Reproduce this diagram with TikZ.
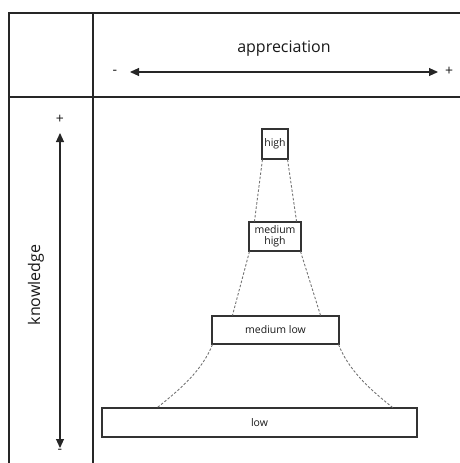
\documentclass[tikz,border=0pt]{standalone}
\usepackage{fontspec}
\setmainfont{Open Sans}
\usetikzlibrary{arrows.meta}
\begin{document}
\begin{tikzpicture}[x=1pt,y=-1pt,
  frame/.style={draw=black!85,line width=1.3pt},
  lvl/.style={draw=black!80,line width=1.1pt,inner sep=0pt,font=\fontsize{10.5}{11.5}\selectfont,align=center,text=black!90},
  conn/.style={draw=black!55,dashed,dash pattern=on 2.5pt off 1.8pt,line width=0.9pt},
  axis/.style={draw=black!85,line width=1.1pt,{Triangle[length=9pt,width=8pt]}-{Triangle[length=9pt,width=8pt]}},
  lab/.style={font=\fontsize{16}{18}\selectfont,text=black!90},
  pm/.style={font=\fontsize{14}{15}\selectfont,text=black!90}]
\useasboundingbox (0,0) rectangle (459,463);
% frame
\draw[frame] (465,13) -- (9,13) -- (9,470);
\draw[frame] (93,13) -- (93,470);
\draw[frame] (9,97) -- (465,97);
% appreciation axis
\node[lab] (app) at (284,49) {appreciation};
\coordinate (aL) at (130,72);
\coordinate (aR) at (438,72);
\draw[axis] (aL) -- (aR);
\node[pm] (am) at (115,72) {-};
\node[pm] (ap) at (449,71) {+};
% knowledge axis
\node[lab,rotate=90] (kn) at (36,285) {knowledge};
\coordinate (kT) at (60,133);
\coordinate (kB) at (60,448);
\draw[axis] (kB) -- (kT);
\node[pm] (kp) at (60,119) {+};
\node[pm] (km) at (60,451) {-};
% levels
\node[lvl,minimum width=26pt,minimum height=30pt] (high) at (275,144) {high};
\node[lvl,minimum width=52pt,minimum height=29pt] (mh) at (275,236.5) {medium\\high};
\node[lvl,minimum width=127pt,minimum height=28pt] (ml) at (275.5,330) {medium low};
\node[lvl,minimum width=315pt,minimum height=29pt] (low) at (259.5,422.5) {low};
% connectors
\draw[conn] ([xshift=1pt]high.south west) -- ([xshift=6pt]mh.north west);
\draw[conn] ([xshift=-1pt]high.south east) -- ([xshift=-5pt]mh.north east);
\draw[conn] ([xshift=1pt]mh.south west) -- ([xshift=21pt]ml.north west);
\draw[conn] ([xshift=-1pt]mh.south east) -- ([xshift=-19pt]ml.north east);
\draw[conn] ([xshift=1pt]ml.south west) .. controls +(-10,25) and +(25,-20) .. ([xshift=56pt]low.north west);
\draw[conn] ([xshift=-1pt]ml.south east) .. controls +(10,25) and +(-25,-20) .. ([xshift=-25pt]low.north east);
\end{tikzpicture}
\end{document}
